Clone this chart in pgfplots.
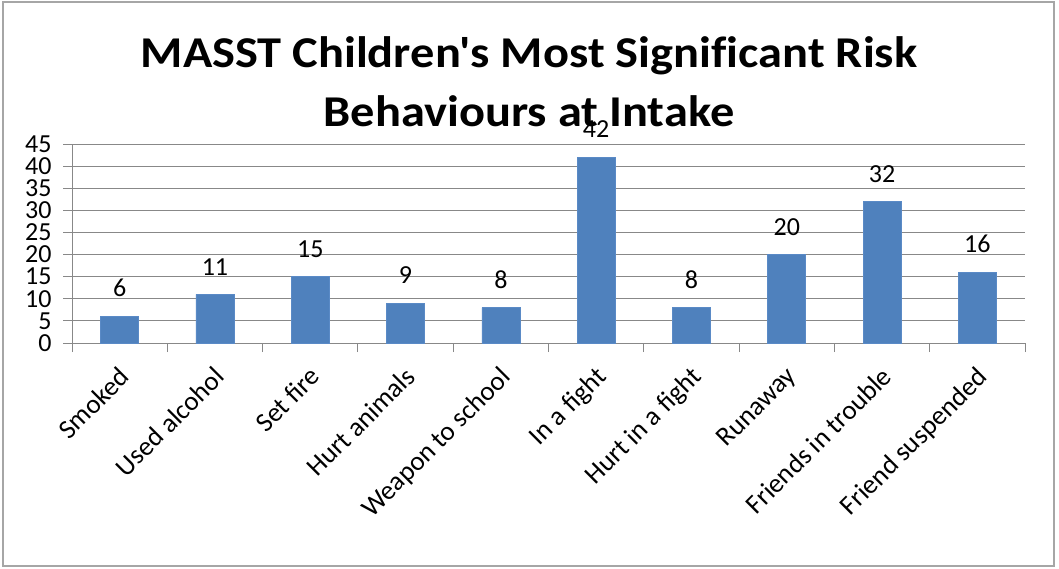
\documentclass[border=0pt]{standalone}
\usepackage{pgfplots}
\pgfplotsset{compat=1.18}
\usepackage{fontspec}
\setmainfont{Carlito}
\newfontfamily\titlefont{Carlito}[FakeStretch=1.1, Ligatures=NoCommon]

\definecolor{barblue}{HTML}{4F81BD}
\definecolor{baredge}{HTML}{5A8AC6}
\definecolor{gridgray}{HTML}{888888}
\definecolor{framegray}{HTML}{A6A6A6}

\begin{document}
\begin{tikzpicture}
  % overall canvas and chart frame
  \path[use as bounding box] (-72pt,-225pt) rectangle (987pt,343pt);
  \draw[framegray, line width=1.2pt] (-69pt,-223pt) rectangle (982pt,341pt);

  \begin{axis}[
    scale only axis,
    width=953pt, height=199pt,
    xmin=-0.5, xmax=9.5,
    ymin=0, ymax=45,
    ytick={0,5,...,45},
    xtick={0,...,9},
    xticklabels={Smoked,Used alcohol,Set fire,Hurt animals,Weapon to school,In a fight,Hurt in a fight,Runaway,Friends in trouble,Friend suspended},
    minor xtick={-0.5,0.5,...,9.5},
    axis lines*=left,
    axis line style={gridgray, line width=0.9pt, -},
    ymajorgrids,
    grid style={gridgray, line width=0.9pt},
    tick align=outside,
    major tick length=9pt,
    minor tick length=9pt,
    x tick style={draw=none},
    minor x tick style={draw=gridgray, line width=0.9pt},
    y tick style={gridgray, line width=0.9pt},
    /pgf/number format/assume math mode=true,
    tick label style={font=\fontsize{26}{30}\selectfont},
    yticklabel style={xshift=-8pt},
    xticklabel style={font=\fontsize{27}{31}\selectfont, xshift=-2pt, yshift=-13pt, rotate=45, anchor=north east, inner sep=0pt},
    ybar,
    bar width=38pt,
    nodes near coords,
    every node near coord/.append style={font=\fontsize{26}{30}\selectfont, anchor=south, inner sep=0pt, yshift=19pt, text=black},
    clip=false,
  ]
    \addplot[fill=barblue, draw=baredge, line width=0.6pt] coordinates {
      (0,6) (1,11) (2,15) (3,9) (4,8) (5,42) (6,8) (7,20) (8,32) (9,16)
    };
  \end{axis}

  % chart title
  \node[anchor=base, font=\titlefont\bfseries\fontsize{44}{50}\selectfont] at (457pt,275pt) {MASST Children's Most Significant Risk};
  \node[anchor=base, font=\titlefont\bfseries\fontsize{44}{50}\selectfont] at (457pt,217pt) {Behaviours at Intake};
\end{tikzpicture}
\end{document}
